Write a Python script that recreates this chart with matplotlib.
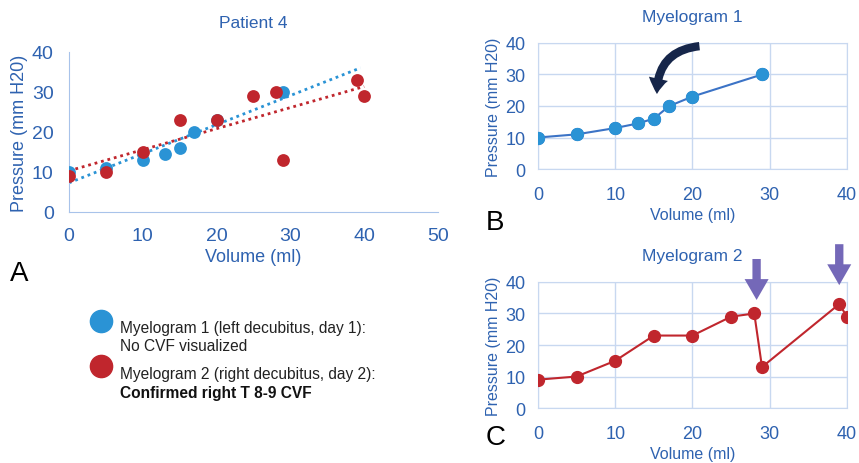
import numpy as np
import matplotlib
matplotlib.use("Agg")
import matplotlib.pyplot as plt

plt.rcParams['font.family'] = ['Liberation Sans', 'DejaVu Sans']

# data
vol1 = [0, 5, 10, 13, 15, 17, 20, 29]
pres1 = [10, 11, 13, 14.5, 16, 20, 23, 30]
vol2 = [0, 5, 10, 15, 20, 25, 28, 29, 39, 40]
pres2 = [9, 10, 15, 23, 23, 29, 30, 13, 33, 29]
arrow_vols = [28.3, 39]

txt_blue = '#2E62B0'
dot_blue = '#2A93D5'
line_blue = '#3B73C6'
red = '#C0262D'
axis_col = '#A8C3EA'
grid_col = '#C8D8F0'
purple = '#7468B8'

fig = plt.figure(figsize=(8.59, 4.64), dpi=100)

# ---- panel A: scatter with trend lines
axA = fig.add_axes([0.0803, 0.541, 0.4296, 0.345])
axA.scatter(vol1, pres1, s=85, color=dot_blue, zorder=3, linewidths=0)
axA.scatter(vol2, pres2, s=85, color=red, zorder=3, linewidths=0)
xs = np.array([0, 39.5])
k1, b1 = np.polyfit(vol1, pres1, 1)
axA.plot(xs, k1 * xs + b1, ls=(0, (1, 1.4)), lw=2, color=dot_blue, zorder=2)
xs2 = np.array([0, 40])
k2, b2 = np.polyfit(vol2, pres2, 1)
axA.plot(xs2, k2 * xs2 + b2, ls=(0, (1, 1.4)), lw=2, color=red, zorder=2)
axA.set_xlim(0, 50)
axA.set_ylim(0, 40)
axA.set_xticks(range(0, 51, 10))
axA.set_yticks(range(0, 41, 10))
for s in ['top', 'right']:
    axA.spines[s].set_visible(False)
for s in ['left', 'bottom']:
    axA.spines[s].set_color(axis_col)
axA.tick_params(length=0, labelsize=14, labelcolor=txt_blue, pad=11)
axA.set_title('Patient 4', color=txt_blue, fontsize=12.5, pad=18)
axA.set_xlabel('Volume (ml)', color=txt_blue, fontsize=13, labelpad=3)
axA.set_ylabel('Pressure (mm H20)', color=txt_blue, fontsize=13, labelpad=3)
fig.text(0.012, 0.395, 'A', fontsize=20, color='black')


def line_panel(ax, x, y, col, title):
    ax.plot(x, y, '-o', color=col, lw=1.5, ms=8.5, zorder=3)
    ax.set_xlim(0, 40)
    ax.set_ylim(0, 40)
    ax.set_xticks(range(0, 41, 10))
    ax.set_yticks(range(0, 41, 10))
    ax.grid(True, color=grid_col, lw=1)
    for s in ax.spines.values():
        s.set_color(grid_col)
    ax.tick_params(length=0, labelsize=13, labelcolor=txt_blue)
    ax.tick_params(axis='y', pad=9)
    ax.tick_params(axis='x', pad=12)
    ax.set_title(title, color=txt_blue, fontsize=12.5, pad=16)
    ax.set_xlabel('Volume (ml)', color=txt_blue, fontsize=11.5, labelpad=3)
    ax.set_ylabel('Pressure (mm H20)', color=txt_blue, fontsize=11.5, labelpad=3)


# ---- panel B
axB = fig.add_axes([0.6263, 0.6336, 0.3597, 0.2716])
line_panel(axB, vol1, pres1, line_blue, 'Myelogram 1')
axB.plot(vol1, pres1, 'o', color=dot_blue, ms=8.5, zorder=4)
axB.annotate('', xy=(15.4, 23.8), xytext=(20.9, 39),
             arrowprops=dict(arrowstyle='simple,head_width=1.4,head_length=1.1,tail_width=0.6',
                             connectionstyle='arc3,rad=0.45', color='#16264A', lw=0,
                             shrinkA=0, shrinkB=0),
             annotation_clip=False)
fig.text(0.565, 0.505, 'B', fontsize=20, color='black')

# ---- panel C
axC = fig.add_axes([0.6263, 0.1185, 0.3597, 0.2716])
line_panel(axC, vol2, pres2, red, 'Myelogram 2')
for xv, y0 in zip(arrow_vols, [47.3, 52]):
    axC.annotate('', xy=(xv, y0 - 13), xytext=(xv, y0),
                 arrowprops=dict(arrowstyle='simple,head_width=1.73,head_length=1.5,tail_width=0.6',
                                 color=purple, lw=0, shrinkA=0, shrinkB=0),
                 annotation_clip=False)
fig.text(0.565, 0.04, 'C', fontsize=20, color='black')

# ---- legend
axL = fig.add_axes([0, 0, 1, 1])
axL.set_axis_off()
axL.set_xlim(0, 1)
axL.set_ylim(0, 1)
axL.plot([0.117], [0.305], 'o', ms=16, color=dot_blue)
axL.plot([0.117], [0.209], 'o', ms=16, color=red)
fs = 11.2
axL.text(0.140, 0.293, 'Myelogram 1 (left decubitus, day 1):', fontsize=fs, color='#222222', va='center')
axL.text(0.140, 0.254, 'No CVF visualized', fontsize=fs, color='#222222', va='center')
axL.text(0.140, 0.192, 'Myelogram 2 (right decubitus, day 2):', fontsize=fs, color='#222222', va='center')
axL.text(0.140, 0.153, 'Confirmed right T 8-9 CVF', fontsize=fs, color='#111111', va='center',
         fontweight='bold')

fig.savefig('out.png', dpi=100)
